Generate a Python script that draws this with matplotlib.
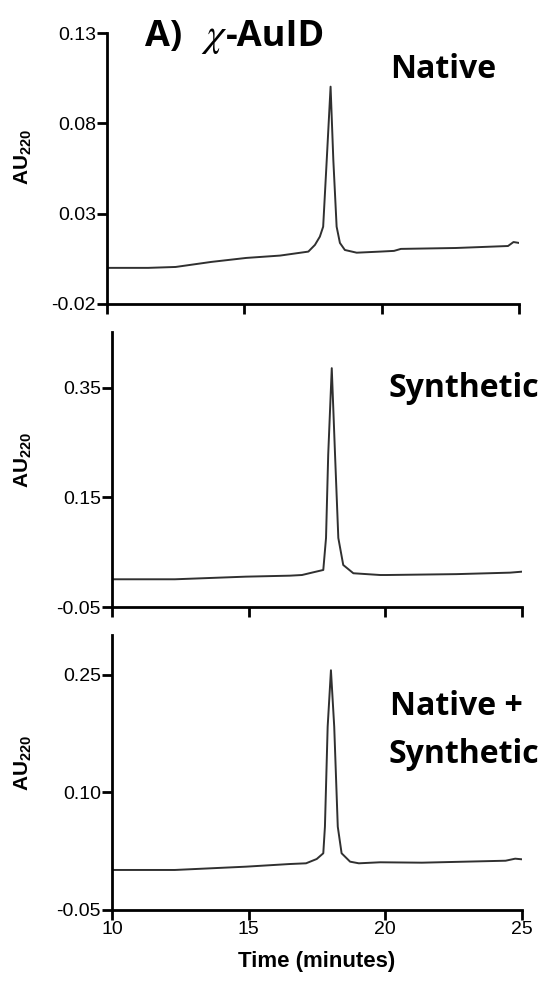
import matplotlib
matplotlib.use("Agg")
import matplotlib.pyplot as plt

plt.rcParams["axes.unicode_minus"] = False
plt.rcParams["mathtext.fontset"] = "custom"
plt.rcParams["mathtext.rm"] = "Liberation Sans:bold"
plt.rcParams["mathtext.bf"] = "Liberation Sans:bold"

# HPLC traces (time in minutes, absorbance AU220)
native_t = [10.0, 11.5, 12.5, 13.8, 15.07, 16.3, 17.33, 17.57, 17.75, 17.87, 18.00,
            18.14, 18.24, 18.36, 18.48, 18.66, 19.09, 19.94, 20.45, 20.7, 22.7,
            24.6, 24.8, 25.0]
native_au = [0.0, 0.0, 0.0005, 0.0033, 0.0055, 0.0068, 0.0090, 0.0127, 0.0173, 0.0228,
             0.0597, 0.1003, 0.0597, 0.0228, 0.0138, 0.0099, 0.0084, 0.0090, 0.0094,
             0.0105, 0.011, 0.0121, 0.0143, 0.0138]

synthetic_t = [10.0, 12.3, 14.9, 16.51, 16.95, 17.37, 17.73, 17.83, 17.91, 18.04,
               18.16, 18.28, 18.46, 18.83, 19.81, 20.06, 22.6, 24.56, 25.0]
synthetic_au = [0.0006, 0.0006, 0.0054, 0.0072, 0.0084, 0.0134, 0.0176, 0.076, 0.228,
                0.386, 0.228, 0.076, 0.0267, 0.0116, 0.0084, 0.0084, 0.010, 0.0127, 0.0145]

mix_t = [10.0, 12.3, 14.9, 16.51, 17.1, 17.49, 17.73, 17.79, 17.89, 18.01, 18.13,
         18.26, 18.40, 18.71, 19.03, 19.81, 21.34, 24.4, 24.75, 25.0]
mix_au = [0.0011, 0.0011, 0.0053, 0.0087, 0.0096, 0.0151, 0.0224, 0.0563, 0.184, 0.256,
          0.184, 0.0563, 0.0224, 0.0117, 0.0096, 0.0109, 0.0104, 0.0129, 0.0155, 0.0147]

x_ticks = [10, 15, 20, 25]
native_yticks = [-0.02, 0.03, 0.08, 0.13]
synthetic_yticks = [-0.05, 0.15, 0.35]
mix_yticks = [-0.05, 0.10, 0.25]

W, H = 549, 983


def fx(px):
    return px / W


def fy(py):
    return 1 - py / H


def panel(rect_px, t, au, ylim, yticks, show_xlabels):
    l, r, top, bot = rect_px
    ax = fig.add_axes([fx(l), fy(bot), fx(r) - fx(l), fy(top) - fy(bot)])
    ax.plot(t, au, color="#303030", lw=1.4)
    ax.set_xlim(10, 25)
    ax.set_ylim(*ylim)
    ax.set_xticks(x_ticks)
    ax.set_yticks(yticks)
    ax.set_yticklabels([f"{v:.2f}" for v in yticks])
    if not show_xlabels:
        ax.set_xticklabels([])
    for s in ("top", "right"):
        ax.spines[s].set_visible(False)
    for s in ("left", "bottom"):
        ax.spines[s].set_linewidth(2.0)
    ax.tick_params(direction="out", length=7, width=2.0, labelsize=14, pad=1)
    for lab in ax.get_xticklabels() + ax.get_yticklabels():
        lab.set_fontfamily("Liberation Sans")
    return ax


fig = plt.figure(figsize=(W / 100, H / 100), dpi=100)

ax1 = panel((107, 519, 33, 304), native_t, native_au, (-0.02, 0.13), native_yticks, False)
ax2 = panel((112, 522, 332, 607), synthetic_t, synthetic_au, (-0.05, 0.452), synthetic_yticks, False)
ax3 = panel((112, 522, 635, 910), mix_t, mix_au, (-0.05, 0.301), mix_yticks, True)
ax3.set_xlabel("Time (minutes)", fontsize=16, fontweight="bold",
               fontfamily="Liberation Sans", labelpad=9)

for yc in (157, 460, 763):
    fig.text(fx(23), fy(yc), r"AU$_{\mathbf{220}}$", rotation=90, ha="center",
             va="center", fontsize=15, fontweight="bold", fontfamily="Liberation Sans")

lab_font = dict(fontfamily="Open Sans", fontweight="bold", color="black")
# panel title in three pieces so the chi can be larger, as in the original
fig.text(fx(145), fy(46), "A)", fontsize=26, ha="left", va="baseline", **lab_font)
fig.text(fx(201), fy(46), r"$\chi$", fontsize=29, math_fontfamily="stix",
         ha="left", va="baseline", color="black")
fig.text(fx(226), fy(46), "-AuID", fontsize=26, ha="left", va="baseline", **lab_font)
fig.text(fx(390), fy(78), "Native", fontsize=23, ha="left", va="baseline", **lab_font)
fig.text(fx(389), fy(397), "Synthetic", fontsize=23, ha="left", va="baseline", **lab_font)
fig.text(fx(390), fy(715), "Native +", fontsize=23, ha="left", va="baseline", **lab_font)
fig.text(fx(389), fy(763), "Synthetic", fontsize=23, ha="left", va="baseline", **lab_font)

fig.savefig("out.png", dpi=100)
